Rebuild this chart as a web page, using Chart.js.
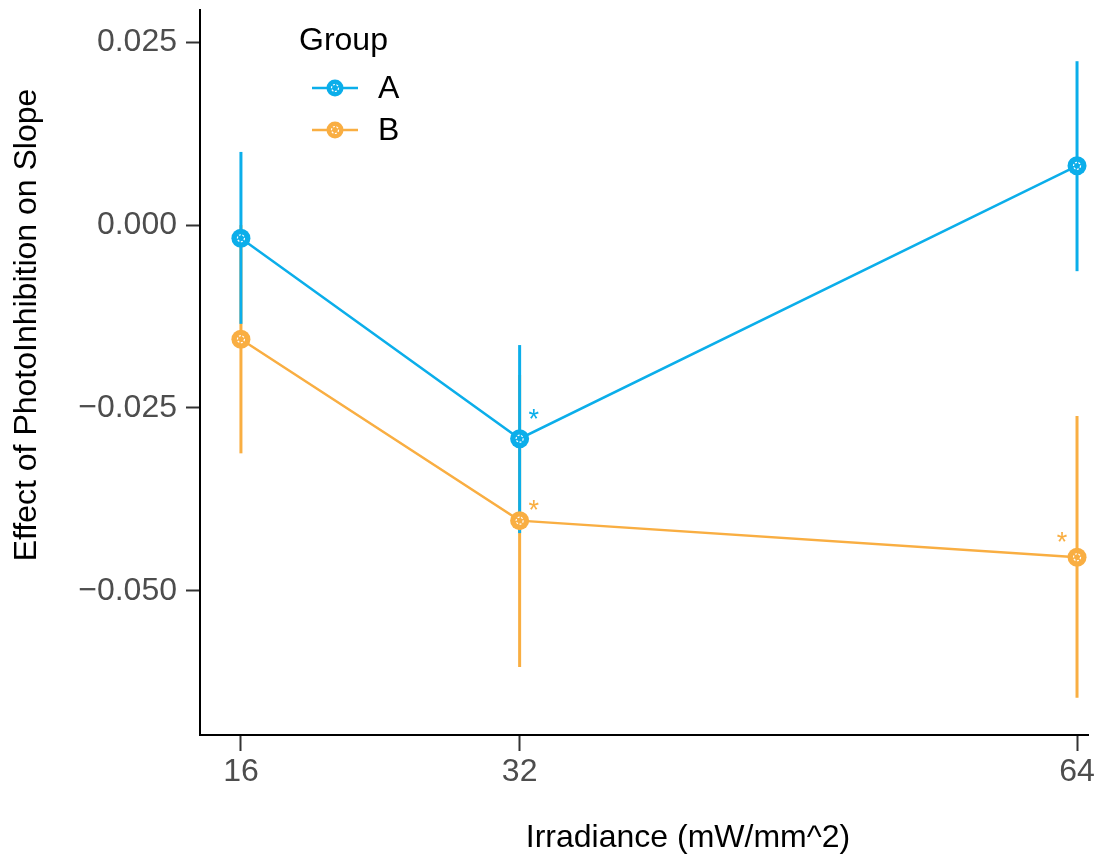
<!DOCTYPE html>
<html>
<head>
<meta charset="utf-8">
<script src="https://cdn.jsdelivr.net/npm/chart.js@4"></script>
<style>
  html, body { margin: 0; padding: 0; background: #fff; }
  #wrap { width: 1104px; height: 860px; position: relative; }
</style>
</head>
<body>
<div id="wrap"><canvas id="c" width="1104" height="860"></canvas></div>
<script>
// ---- Data ----
const irradiance = [16, 32, 64];
const groupNames = ['A', 'B'];
const meanA  = [-0.0018, -0.0292, 0.0081];
const lowerA = [-0.0135, -0.0421, -0.0063];
const upperA = [ 0.0100, -0.0164,  0.0224];
const meanB  = [-0.0156, -0.0404, -0.0454];
const lowerB = [-0.0312, -0.0604, -0.0646];
const upperB = [ 0.0000, -0.0205, -0.0261];
const starA = [false, true, false];
const starB = [false, true, true];
const yTickValues = [0.025, 0.000, -0.025, -0.050];
const yTickLabels = ['0.025', '0.000', '\u22120.025', '\u22120.050'];
const xTickValues = [16, 32, 64];
const xTickLabels = ['16', '32', '64'];
const yTitle = 'Effect of PhotoInhibition on Slope';
const xTitle = 'Irradiance (mW/mm^2)';
const legendTitle = 'Group';

// ---- Style ----
const FONT = "'Liberation Sans', Arial, sans-serif";
const colA = '#0BAEEA';
const colB = '#F9AE42';
const colors = [colA, colB];
// asterisk pixel nudges relative to point [dx, dy]
const starNudgeA = [[0,0],[14,-27],[0,0]];
const starNudgeB = [[0,0],[14,-18],[-15,-22]];

const errorBars = [
  { lower: lowerA, upper: upperA, color: colA },
  { lower: lowerB, upper: upperB, color: colB }
];

const errorBarPlugin = {
  id: 'errbars',
  beforeDatasetsDraw(chart) {
    const ctx = chart.ctx, xs = chart.scales.x, ys = chart.scales.y;
    ctx.save();
    ctx.lineWidth = 3;
    ctx.lineCap = 'butt';
    for (let g = errorBars.length - 1; g >= 0; g--) {
      const eb = errorBars[g];
      ctx.strokeStyle = eb.color;
      irradiance.forEach((xv, i) => {
        const px = xs.getPixelForValue(xv);
        ctx.beginPath();
        ctx.moveTo(px, ys.getPixelForValue(eb.upper[i]));
        ctx.lineTo(px, ys.getPixelForValue(eb.lower[i]));
        ctx.stroke();
      });
    }
    ctx.restore();
  }
};

const decoPlugin = {
  id: 'deco',
  afterDatasetsDraw(chart) {
    const ctx = chart.ctx;
    ctx.save();
    chart.data.datasets.forEach((ds, di) => {
      const meta = chart.getDatasetMeta(di);
      meta.data.forEach(pt => {
        ctx.beginPath();
        ctx.setLineDash([2, 1.5]);
        ctx.strokeStyle = '#ffffff';
        ctx.lineWidth = 1.2;
        ctx.arc(pt.x, pt.y, 3.5, 0, Math.PI * 2);
        ctx.stroke();
      });
    });
    ctx.setLineDash([]);
    ctx.font = '27px ' + FONT;
    ctx.textAlign = 'center';
    ctx.textBaseline = 'alphabetic';
    const stars = [[starA, starNudgeA, colA, 0], [starB, starNudgeB, colB, 1]];
    stars.forEach(([flags, nudge, col, di]) => {
      const meta = chart.getDatasetMeta(di);
      flags.forEach((f, i) => {
        if (!f) return;
        const pt = meta.data[i];
        ctx.fillStyle = col;
        ctx.fillText('*', pt.x + nudge[i][0], pt.y + nudge[i][1] + 16);
      });
    });
    // legend
    ctx.fillStyle = '#000';
    ctx.font = '32px ' + FONT;
    ctx.textAlign = 'left';
    ctx.textBaseline = 'middle';
    ctx.fillText(legendTitle, 299, 41);
    groupNames.forEach((name, i) => {
      const y = 88 + i * 42;
      ctx.strokeStyle = colors[i];
      ctx.lineWidth = 2.5;
      ctx.beginPath(); ctx.moveTo(312, y); ctx.lineTo(358, y); ctx.stroke();
      ctx.fillStyle = colors[i];
      ctx.beginPath(); ctx.arc(335, y, 8.5, 0, Math.PI * 2); ctx.fill();
      ctx.strokeStyle = '#fff'; ctx.lineWidth = 1.2; ctx.setLineDash([2, 1.5]);
      ctx.beginPath(); ctx.arc(335, y, 3.5, 0, Math.PI * 2); ctx.stroke();
      ctx.setLineDash([]);
      ctx.fillStyle = '#000';
      ctx.fillText(name, 378, y + 1);
    });
    // axis titles
    ctx.font = '32px ' + FONT;
    ctx.textAlign = 'center';
    ctx.fillText(xTitle, 688, 838);
    ctx.translate(27, 325);
    ctx.rotate(-Math.PI / 2);
    ctx.fillText(yTitle, 0, 0);
    ctx.restore();
  }
};

const mkData = (arr) => irradiance.map((x, i) => ({ x: x, y: arr[i] }));

new Chart(document.getElementById('c'), {
  type: 'line',
  data: {
    datasets: [
      { label: groupNames[0], data: mkData(meanA), borderColor: colA, backgroundColor: colA,
        borderWidth: 2.5, pointRadius: 9.5, pointBorderWidth: 0, pointBackgroundColor: colA, tension: 0 },
      { label: groupNames[1], data: mkData(meanB), borderColor: colB, backgroundColor: colB,
        borderWidth: 2.5, pointRadius: 9.5, pointBorderWidth: 0, pointBackgroundColor: colB, tension: 0 }
    ]
  },
  options: {
    responsive: false,
    animation: false,
    layout: { padding: { top: 10, right: 16, left: 0, bottom: 0 } },
    plugins: { legend: { display: false }, tooltip: { enabled: false } },
    scales: {
      x: {
        type: 'linear',
        min: 13.65, max: 64.63,
        afterBuildTicks(scale) { scale.ticks = xTickValues.map(v => ({ value: v })); },
        afterFit(scale) { scale.height = 125; scale.paddingLeft = 0; scale.paddingRight = 0; },
        ticks: {
          autoSkip: false, maxRotation: 0, padding: 2,
          color: '#4d4d4d', font: { family: FONT, size: 32 },
          callback: (v) => xTickLabels[xTickValues.indexOf(v)]
        },
        grid: { drawOnChartArea: false, drawTicks: true, tickLength: 16, tickWidth: 2, tickColor: '#333' },
        border: { display: true, color: '#000', width: 2 }
      },
      y: {
        type: 'linear',
        min: -0.0697, max: 0.0294,
        afterBuildTicks(scale) { scale.ticks = yTickValues.map(v => ({ value: v })); },
        afterFit(scale) { scale.width = 200; scale.paddingTop = 0; scale.paddingBottom = 0; },
        ticks: {
          autoSkip: false, padding: 9,
          color: '#4d4d4d', font: { family: FONT, size: 32 },
          callback: (v) => yTickLabels[yTickValues.indexOf(v)]
        },
        grid: { drawOnChartArea: false, drawTicks: true, tickLength: 14, tickWidth: 2, tickColor: '#333' },
        border: { display: true, color: '#000', width: 2 }
      }
    }
  },
  plugins: [errorBarPlugin, decoPlugin]
});
</script>
</body>
</html>
